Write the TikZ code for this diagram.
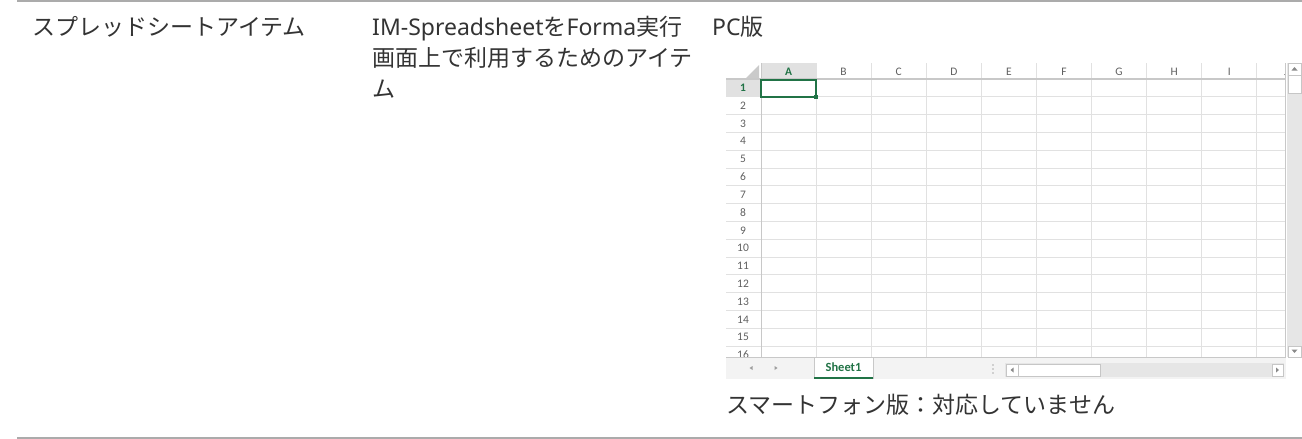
\documentclass[tikz,border=0pt]{standalone}
\usepackage{fontspec}
\setmainfont{Noto Sans CJK JP}
\newfontfamily\latfont{Noto Sans}
\newfontfamily\xlfont{Carlito}
\definecolor{txt}{HTML}{333333}
\definecolor{rulec}{HTML}{ABABAB}
\definecolor{gridc}{HTML}{E1E1E1}
\definecolor{hdrfill}{HTML}{E1E1E1}
\definecolor{hdrline}{HTML}{C8C8C8}
\definecolor{xlgreen}{HTML}{217346}
\definecolor{hdrtxt}{HTML}{5F5F5F}
\definecolor{barbg}{HTML}{F3F3F3}
\definecolor{trackc}{HTML}{E6E6E6}
\definecolor{btnline}{HTML}{C6C6C6}
\definecolor{arrowc}{HTML}{8A8A8A}
\begin{document}
\begin{tikzpicture}[x=1pt,y=-1pt,
  body/.style={anchor=base west,inner sep=0,text=txt,font=\fontsize{23}{31}\selectfont},
  xltext/.style={text=hdrtxt,inner sep=0,font=\xlfont\fontsize{11.5}{11.5}\selectfont},
  xlbold/.style={text=xlgreen,inner sep=0,font=\xlfont\bfseries\fontsize{11.5}{11.5}\selectfont},
  gridline/.style={draw=gridc,line width=1pt},
  btnbox/.style={draw=btnline,fill=white,line width=0.8pt},
  tri/.style={fill=arrowc,draw=none}]
\useasboundingbox (0,0) rectangle (1302,439);
% rules
\draw[rulec,line width=2pt] (17,1) -- (1302,1);
\draw[rulec,line width=2pt] (17,438) -- (1302,438);
% texts
\node[body] (item) at (32,35) {スプレッドシートアイテム};
\node[body] (desc1) at (372,35) {{\latfont IM-Spreadsheet}を{\latfont Forma}実行};
\node[body] (desc2) at (372,66) {画面上で利用するためのアイテ};
\node[body] (desc3) at (372,97) {ム};
\node[body] (pc) at (712,35) {{\latfont PC}版};
\node[body] (sp) at (726,413) {スマートフォン版：対応していません};
% ---- spreadsheet ----
% header highlights
\fill[hdrfill] (761,63) rectangle (816.1,79);
\fill[hdrfill] (726,79) rectangle (761,96.8);
% corner triangle
\fill[hdrfill!90!black] (759,65) -- (759,78) -- (746,78) -- cycle;
% horizontal grid lines
\foreach \k in {1,...,15}{
  \draw[gridline] (726,{79+17.8*\k}) -- (1285,{79+17.8*\k});
}
% vertical grid lines
\foreach \i in {1,...,9}{
  \draw[gridline] ({761+55.1*\i},63) -- ({761+55.1*\i},357);
}
% header borders
\draw[hdrline,line width=1.5pt] (726,79) -- (1285,79);
\draw[hdrline,line width=1pt] (761,63) -- (761,357);
\draw[hdrline,line width=1pt] (1285,63) -- (1285,357);
% column header letters
\foreach \c [count=\i from 0] in {B,C,D,E,F,G,H,I}{
  \node[xltext] (col\c) at ({761+55.1*(\i+1)+27.5},71.5) {\c};
}
\node[xlbold] (colA) at (788.5,71.5) {A};
\begin{scope}
\clip (1257,63) rectangle (1284.5,79);
\node[xltext] (colJ) at (1286,71.5) {J};
\end{scope}
% row numbers
\node[xlbold] (row1) at (743,88) {1};
\foreach \r in {2,...,15}{
  \node[xltext] (row\r) at (743,{79+17.8*\r-8.9}) {\r};
}
\begin{scope}
\clip (726,346) rectangle (761,357);
\node[xltext] (row16) at (743,{79+17.8*16-8.9}) {16};
\end{scope}
% selected cell
\draw[xlgreen,line width=2pt] (761,79.5) rectangle (816.1,96.8);
\fill[xlgreen] (814.3,95) rectangle (818.3,99);
% tab bar
\fill[barbg] (726,357) rectangle (1286,379);
\draw[hdrline,line width=1pt] (726,357) -- (1286,357);
\fill[white] (814,357.5) rectangle (873,379);
\draw[hdrline,line width=0.8pt] (814,357) -- (814,379);
\draw[hdrline,line width=0.8pt] (873,357) -- (873,379);
\draw[xlgreen,line width=2.5pt] (814,378) -- (873,378);
\node[inner sep=0,text=xlgreen,font=\xlfont\bfseries\fontsize{12.5}{12.5}\selectfont] (sheet) at (843.5,367.5) {Sheet1};
% nav arrows
\fill[tri,fill=gridc!70!black] (749.5,368) -- (752.5,366) -- (752.5,370) -- cycle;
\fill[tri,fill=gridc!70!black] (777.5,368) -- (774.5,366) -- (774.5,370) -- cycle;
% dots
\foreach \yy in {365,369,373}{ \fill[arrowc!70] (993,\yy) circle (0.8); }
% horizontal scrollbar
\fill[trackc] (1005,363) rectangle (1284,377);
\draw[btnbox] (1006,364) rectangle (1018,376);
\fill[tri] (1010.5,370) -- (1013.5,367.5) -- (1013.5,372.5) -- cycle;
\draw[btnbox] (1018,364) rectangle (1100,376);
\draw[btnbox] (1272,364) rectangle (1283,376);
\fill[tri] (1279,370) -- (1276,367.5) -- (1276,372.5) -- cycle;
% vertical scrollbar
\fill[trackc] (1287,63) rectangle (1302,357);
\draw[btnbox] (1288,63.5) rectangle (1301,75);
\fill[tri] (1294.5,67) -- (1297.5,70.5) -- (1291.5,70.5) -- cycle;
\draw[btnbox] (1288,75) rectangle (1301,93);
\draw[btnbox] (1288,346) rectangle (1301,357);
\fill[tri] (1294.5,353) -- (1297.5,349.5) -- (1291.5,349.5) -- cycle;
\end{tikzpicture}
\end{document}
